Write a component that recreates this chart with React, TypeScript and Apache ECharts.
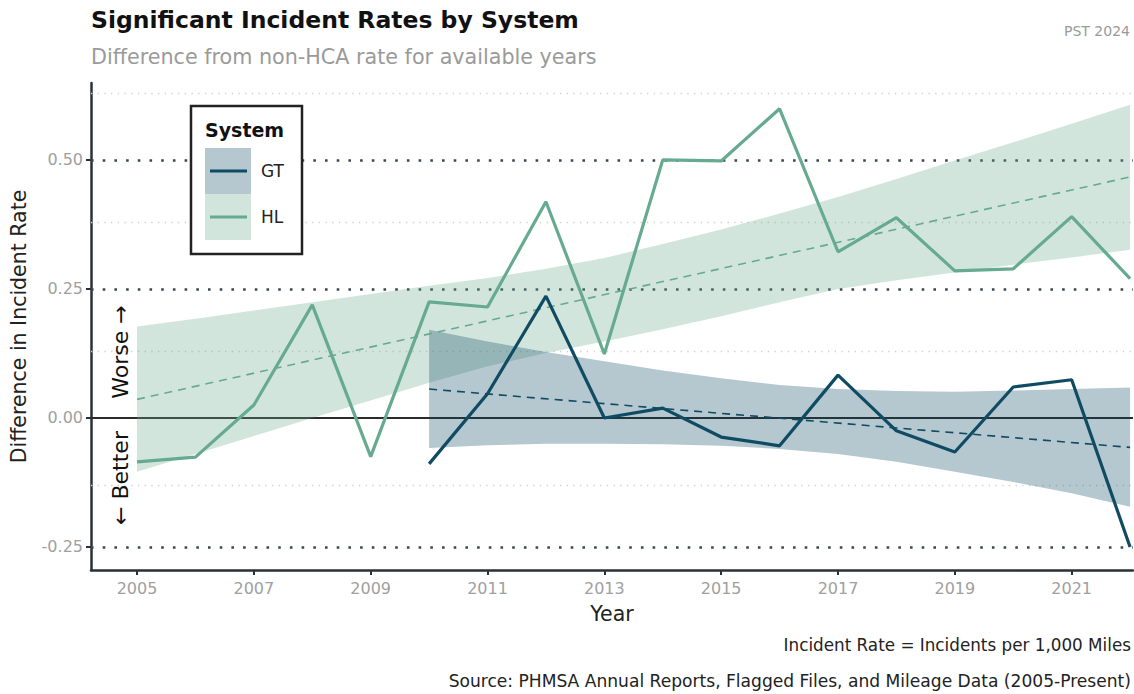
import { useEffect, useRef } from "react";
import * as echarts from "echarts";

const years = [2005, 2006, 2007, 2008, 2009, 2010, 2011, 2012, 2013, 2014, 2015, 2016, 2017, 2018, 2019, 2020, 2021, 2022];
const hlValues = [-0.085, -0.076, 0.025, 0.219, -0.075, 0.225, 0.215, 0.419, 0.124, 0.5, 0.498, 0.599, 0.322, 0.388, 0.285, 0.289, 0.39, 0.27];
const hlUpper = [0.177, 0.192, 0.208, 0.224, 0.24, 0.256, 0.271, 0.289, 0.31, 0.337, 0.365, 0.396, 0.428, 0.463, 0.499, 0.534, 0.57, 0.607];
const hlLower = [-0.104, -0.07, -0.035, 0.0, 0.034, 0.068, 0.1, 0.126, 0.148, 0.172, 0.197, 0.224, 0.25, 0.267, 0.282, 0.297, 0.311, 0.326];

const gtYears = [2010, 2011, 2012, 2013, 2014, 2015, 2016, 2017, 2018, 2019, 2020, 2021, 2022];
const gtValues = [-0.089, 0.047, 0.236, 0.0, 0.019, -0.037, -0.054, 0.083, -0.025, -0.066, 0.06, 0.074, -0.25];
const gtUpper = [0.171, 0.148, 0.128, 0.11, 0.092, 0.077, 0.064, 0.056, 0.052, 0.051, 0.053, 0.056, 0.059];
const gtLower = [-0.058, -0.053, -0.05, -0.05, -0.051, -0.054, -0.06, -0.07, -0.085, -0.104, -0.124, -0.146, -0.172];

const hlTrendYears = [2005, 2022];
const hlTrend = [0.036, 0.467];
const gtTrendYears = [2010, 2022];
const gtTrend = [0.056, -0.057];

const xTickLabels = [2005, 2007, 2009, 2011, 2013, 2015, 2017, 2019, 2021];
const yTickLabels = [-0.25, 0, 0.25, 0.5];
const yMinorTicks = [-0.125, 0.125, 0.375, 0.625];

const GT_COLOR = "#0f4b63";
const HL_COLOR = "#66aa90";
const GT_FILL = "rgba(15,75,99,0.31)";
const HL_FILL = "rgba(102,170,144,0.3)";
const FONT = "DejaVu Sans";

function ribbon(xs: number[], lo: number[], hi: number[], fill: string) {
  return {
    type: "custom",
    z: 2,
    silent: true,
    data: xs.map((x, i) => [x, lo[i], hi[i]]),
    encode: { x: 0, y: [1, 2] },
    renderItem: (params: any, api: any) => {
      if (params.dataIndex !== 0) return null;
      const pts: number[][] = [];
      for (let i = 0; i < xs.length; i++) pts.push(api.coord([xs[i], hi[i]]));
      for (let i = xs.length - 1; i >= 0; i--) pts.push(api.coord([xs[i], lo[i]]));
      return { type: "polygon", shape: { points: pts }, style: { fill } };
    },
  };
}

export default function App() {
  const ref = useRef<HTMLDivElement>(null);
  useEffect(() => {
    document.body.style.margin = "0";
    if (!ref.current) return;
    const chart = echarts.init(ref.current, null, { renderer: "svg" });
    const axisColor = "#2a3136";
    const gridLines: any[] = [
      ...yMinorTicks.map((v) => ({ yAxis: v, lineStyle: { color: "#cfcfcf", width: 1.3, type: [1.3, 5.4] } })),
      ...yTickLabels.map((v) =>
        v === 0
          ? { yAxis: v, lineStyle: { color: "#2b2b2b", width: 2, type: "solid" } }
          : { yAxis: v, lineStyle: { color: "#3b4652", width: 2.6, type: [2.6, 9.1] } }
      ),
    ];
    chart.setOption({
      animation: false,
      textStyle: { fontFamily: FONT },
      title: [
        { text: "Significant Incident Rates by System", left: 91, top: 8, padding: 0, textStyle: { fontFamily: FONT, fontSize: 23.5, fontWeight: "bold", color: "#111" } },
        { text: "Difference from non-HCA rate for available years", left: 91, top: 46, padding: 0, textStyle: { fontFamily: FONT, fontSize: 20.7, fontWeight: "normal", color: "#9a9a9a" } },
        { text: "PST 2024", right: 4, top: 24, padding: 0, textStyle: { fontFamily: FONT, fontSize: 14, fontWeight: "normal", color: "#9a9a9a" } },
      ],
      grid: { left: 91, right: 1, top: 83, bottom: 124 },
      xAxis: {
        type: "value",
        min: 2004.212,
        max: 2022.05,
        splitLine: { show: false },
        axisLine: { show: true, onZero: false, lineStyle: { color: axisColor, width: 2.5 } },
        axisTick: { show: true, length: 5, customValues: xTickLabels, lineStyle: { color: axisColor, width: 2 } },
        axisLabel: { customValues: xTickLabels, color: "#a0a0a0", fontSize: 16, margin: 10, formatter: (v: number) => String(v) },
        name: "Year",
        nameLocation: "middle",
        nameGap: 33,
        nameTextStyle: { fontSize: 20.5, color: "#222", fontFamily: FONT },
      },
      yAxis: {
        type: "value",
        min: -0.2946,
        max: 0.649,
        splitLine: { show: false },
        axisLine: { show: true, onZero: false, lineStyle: { color: axisColor, width: 2.5 } },
        axisTick: { show: true, length: 5, customValues: yTickLabels, lineStyle: { color: axisColor, width: 2 } },
        axisLabel: { customValues: yTickLabels, color: "#a0a0a0", fontSize: 16, margin: 8, formatter: (v: number) => v.toFixed(2) },
        name: "Difference in Incident Rate",
        nameLocation: "middle",
        nameGap: 62,
        nameTextStyle: { fontSize: 20.5, color: "#222", fontFamily: FONT },
      },
      series: [
        ribbon(years, hlLower, hlUpper, HL_FILL),
        ribbon(gtYears, gtLower, gtUpper, GT_FILL),
        {
          type: "line",
          z: 3,
          silent: true,
          symbol: "none",
          data: hlTrendYears.map((x, i) => [x, hlTrend[i]]),
          lineStyle: { color: HL_COLOR, width: 1.6, type: [8, 6] },
          markLine: { z: 1, silent: true, symbol: ["none", "none"], label: { show: false }, data: gridLines },
        },
        {
          type: "line",
          z: 3,
          silent: true,
          symbol: "none",
          data: gtTrendYears.map((x, i) => [x, gtTrend[i]]),
          lineStyle: { color: GT_COLOR, width: 1.6, type: [8, 6] },
        },
        {
          name: "HL",
          type: "line",
          z: 4,
          silent: true,
          symbol: "none",
          data: years.map((x, i) => [x, hlValues[i]]),
          lineStyle: { color: HL_COLOR, width: 3.2 },
        },
        {
          name: "GT",
          type: "line",
          z: 4,
          silent: true,
          symbol: "none",
          data: gtYears.map((x, i) => [x, gtValues[i]]),
          lineStyle: { color: GT_COLOR, width: 3.2 },
        },
      ],
      graphic: [
        { type: "text", x: 120, y: 352, rotation: Math.PI / 2, z: 10, style: { text: "Worse \u2192", fill: "#111", fontSize: 22, fontFamily: FONT, align: "center", verticalAlign: "middle" } },
        { type: "text", x: 120, y: 478, rotation: Math.PI / 2, z: 10, style: { text: "\u2190 Better", fill: "#111", fontSize: 22, fontFamily: FONT, align: "center", verticalAlign: "middle" } },
        { type: "rect", z: 10, shape: { x: 191, y: 106, width: 111, height: 148 }, style: { fill: "#fff", stroke: "#222", lineWidth: 2.5 } },
        { type: "text", x: 205, y: 130, z: 11, style: { text: "System", fill: "#111", fontSize: 19, fontWeight: "bold", fontFamily: FONT, verticalAlign: "middle" } },
        { type: "rect", z: 11, shape: { x: 205, y: 148, width: 46, height: 46 }, style: { fill: GT_FILL } },
        { type: "rect", z: 11, shape: { x: 205, y: 194, width: 46, height: 46 }, style: { fill: HL_FILL } },
        { type: "line", z: 12, shape: { x1: 210, y1: 171, x2: 247, y2: 171 }, style: { stroke: GT_COLOR, lineWidth: 3.2 } },
        { type: "line", z: 12, shape: { x1: 210, y1: 217, x2: 247, y2: 217 }, style: { stroke: HL_COLOR, lineWidth: 3.2 } },
        { type: "text", x: 261, y: 171, z: 12, style: { text: "GT", fill: "#222", fontSize: 17, fontFamily: FONT, verticalAlign: "middle" } },
        { type: "text", x: 261, y: 217, z: 12, style: { text: "HL", fill: "#222", fontSize: 17, fontFamily: FONT, verticalAlign: "middle" } },
        { type: "text", x: 1131, y: 645, z: 10, style: { text: "Incident Rate = Incidents per 1,000 Miles", fill: "#222", fontSize: 16.8, fontFamily: FONT, align: "right", verticalAlign: "middle" } },
        { type: "text", x: 1131, y: 681, z: 10, style: { text: "Source: PHMSA Annual Reports, Flagged Files, and Mileage Data (2005-Present)", fill: "#222", fontSize: 17.1, fontFamily: FONT, align: "right", verticalAlign: "middle" } },
      ],
    });
    return () => chart.dispose();
  }, []);
  return <div ref={ref} style={{ width: 1134, height: 694 }} />;
}
